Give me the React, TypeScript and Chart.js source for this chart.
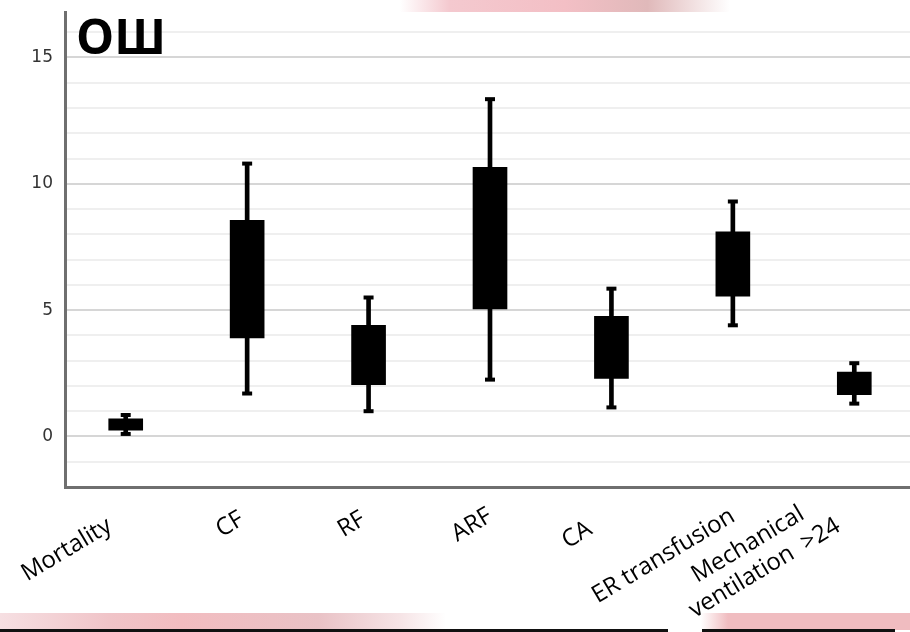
import React, { useEffect, useRef } from "react";
import { Chart, registerables } from "chart.js";

Chart.register(...registerables);

const categories: (string | string[])[] = [
  ["", "Mortality   "],
  ["", "CF "],
  ["", "RF "],
  ["", "ARF"],
  ["", "CA    "],
  ["", "ER transfusion"],
  ["Mechanical       ", "ventilation  >24   "],
];
const whiskerLow = [0.1, 1.7, 1.0, 2.25, 1.15, 4.4, 1.3];
const whiskerHigh = [0.85, 10.8, 5.5, 13.35, 5.85, 9.3, 2.9];
const boxLow = [0.25, 3.9, 2.05, 5.05, 2.3, 5.55, 1.65];
const boxHigh = [0.7, 8.55, 4.4, 10.65, 4.75, 8.1, 2.55];
const yTickLabels = [0, 5, 10, 15];

export default function App() {
  const ref = useRef<HTMLCanvasElement | null>(null);

  useEffect(() => {
    if (!ref.current) return;
    const chart = new Chart(ref.current, {
      type: "bar",
      data: {
        labels: categories,
        datasets: [
          {
            type: "line",
            label: "capHigh",
            data: whiskerHigh,
            showLine: false,
            pointStyle: "line",
            pointRadius: 5,
            pointBorderWidth: 4,
            borderColor: "#000",
            backgroundColor: "#000",
            order: 0,
          } as any,
          {
            type: "line",
            label: "capLow",
            data: whiskerLow,
            showLine: false,
            pointStyle: "line",
            pointRadius: 5,
            pointBorderWidth: 4,
            borderColor: "#000",
            backgroundColor: "#000",
            order: 0,
          } as any,
          {
            label: "box",
            data: boxLow.map((v, i) => [v, boxHigh[i]]),
            backgroundColor: "#000",
            barThickness: 34,
            grouped: false,
            order: 1,
          } as any,
          {
            label: "whisker",
            data: whiskerLow.map((v, i) => [v, whiskerHigh[i]]),
            backgroundColor: "#000",
            barThickness: 4,
            grouped: false,
            order: 2,
          } as any,
        ],
      },
      options: {
        animation: false,
        responsive: false,
        maintainAspectRatio: false,
        layout: { padding: { top: 12, right: 0, left: 0, bottom: 0 } },
        plugins: {
          legend: { display: false },
          tooltip: { enabled: false },
        },
        scales: {
          x: {
            grid: { display: false, drawTicks: false },
            border: { display: true, color: "#6f6f6f", width: 3 },
            ticks: {
              color: "#000",
              font: { family: "Open Sans", size: 24, lineHeight: 1.2 },
              maxRotation: 31,
              minRotation: 31,
              padding: -9.7,
              labelOffset: -14.8,
              autoSkip: false,
            },
            afterFit: (scale: any) => {
              scale.height = 145;
            },
          },
          y: {
            min: -2,
            max: 16.8,
            afterBuildTicks: (scale: any) => {
              const t = [];
              for (let v = -2; v <= 16; v++) t.push({ value: v });
              scale.ticks = t;
            },
            grid: {
              drawTicks: false,
              color: (ctx: any) =>
                yTickLabels.includes(ctx.tick?.value) ? "#d6d6d6" : "#efefef",
              lineWidth: 2,
            },
            border: { display: true, color: "#6f6f6f", width: 3 },
            ticks: {
              color: "#333",
              font: { family: "DejaVu Sans", size: 17 },
              padding: 12,
              callback: (v: any) => (yTickLabels.includes(Number(v)) ? String(v) : ""),
            },
            afterFit: (scale: any) => {
              scale.width = 65;
              scale.paddingTop = 0;
              scale.paddingBottom = 0;
            },
          },
        },
      },
    });
    return () => chart.destroy();
  }, []);

  return (
    <div
      style={{
        position: "fixed",
        left: 0,
        top: 0,
        width: 910,
        height: 632,
        overflow: "hidden",
        background: "#fff",
      }}
    >
      <div
        style={{
          position: "absolute",
          left: 400,
          top: 0,
          width: 330,
          height: 12,
          background:
            "linear-gradient(90deg, rgba(255,255,255,0) 0%, #f4c9cf 15%, #f3bfc5 50%, #e0b9ba 75%, rgba(255,255,255,0) 100%)",
        }}
      />
      <div
        style={{
          position: "absolute",
          left: 0,
          top: 613,
          width: 910,
          height: 17,
          background:
            "linear-gradient(90deg, #f6dfe2 0%, #f0c4c8 12%, #f2bcc0 20%, #e9c2c6 35%, #f6e4e6 44%, #ffffff 49%, #ffffff 77%, #f0bcc0 80%, #f0bcc0 100%)",
        }}
      />
      <div
        style={{
          position: "absolute",
          left: 0,
          top: 629,
          width: 668,
          height: 3,
          background: "#111",
        }}
      />
      <div
        style={{
          position: "absolute",
          left: 702,
          top: 629,
          width: 193,
          height: 3,
          background: "#111",
        }}
      />
      <canvas
        ref={ref}
        width={924}
        height={632}
        style={{ position: "absolute", left: 0, top: 0, width: 924, height: 632 }}
      />
      <div
        style={{
          position: "absolute",
          left: 76,
          top: 10,
          fontFamily: "Open Sans",
          fontWeight: 700,
          fontSize: 48,
          lineHeight: "52px",
          color: "#000",
        }}
      >
        ОШ
      </div>
    </div>
  );
}
